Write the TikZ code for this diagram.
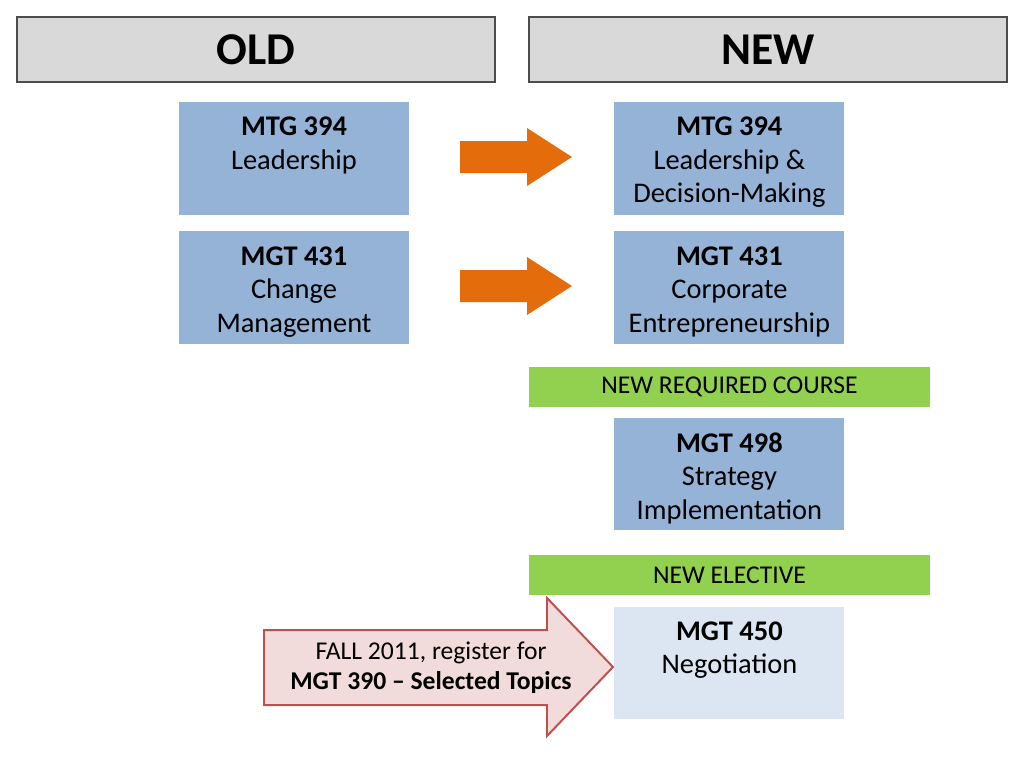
\documentclass[tikz,border=0pt]{standalone}
\usepackage{fontspec}
\setmainfont{Carlito}
\usetikzlibrary{positioning}
\definecolor{hdrgray}{HTML}{D9D9D9}
\definecolor{coursebl}{HTML}{95B3D7}
\definecolor{courselt}{HTML}{DCE6F2}
\definecolor{bannergreen}{HTML}{92D050}
\definecolor{moveorange}{HTML}{E46C0A}
\definecolor{regfill}{HTML}{F2DCDB}
\definecolor{regline}{HTML}{C0504D}

\begin{document}
\begin{tikzpicture}[x=0.703pt, y=-0.703pt]
        \tikzstyle{header} = [rectangle, draw=black!70, line width=0.8pt, fill=hdrgray, minimum width=336pt, minimum height=45.7pt, font=\fontsize{32}{38}\selectfont\bfseries]
        \tikzstyle{course} = [rectangle, fill=coursebl, minimum width=161.7pt, minimum height=79.4pt]
        \tikzstyle{coursetxt} = [inner sep=0pt, align=center, font=\fontsize{20}{23.6}\selectfont]
        \tikzstyle{banner} = [rectangle, fill=bannergreen, minimum width=282pt, minimum height=28.1pt, font=\fontsize{18}{21}\selectfont]
        \tikzstyle{movearrow} = [fill=moveorange]
        \tikzstyle{regarrow} = [fill=regfill, draw=regline, line width=1.4pt, line join=miter]

        \useasboundingbox (0,0) rectangle (1024,768);

        \node [header] (old) at (256,49.5) {OLD};
        \node [header] (new) at (768,49.5) {NEW};

        % old courses
        \node [course] (old394) at (294,158.5) {};
        \node [course, below=11.2pt of old394] (old431) {};

        % new courses
        \node [course, right=144pt of old394] (new394) {};
        \node [course, below=11.2pt of new394] (new431) {};
        \node [banner, below=15.5pt of new431] (required) {NEW REQUIRED COURSE};
        \node [course, below=7pt of required] (new498) {};
        \node [banner, below=16.9pt of new498] (elective) {NEW ELECTIVE};
        \node [course, fill=courselt, minimum height=78.7pt, below=7.7pt of elective] (new450) {};

        \node [coursetxt, below=10.5pt of old394.north] (old394txt) {\textbf{MTG 394}\\Leadership};
        \node [coursetxt, below=10.5pt of old431.north] (old431txt) {\textbf{MGT 431}\\Change\\Management};
        \node [coursetxt, below=10.5pt of new394.north] (new394txt) {\textbf{MTG 394}\\Leadership \&\\Decision-Making};
        \node [coursetxt, below=10.5pt of new431.north] (new431txt) {\textbf{MGT 431}\\Corporate\\Entrepreneurship};
        \node [coursetxt, below=10.5pt of new498.north] (new498txt) {\textbf{MGT 498}\\Strategy\\Implementation};
        \node [coursetxt, below=10.5pt of new450.north] (new450txt) {\textbf{MGT 450}\\Negotiation};

        % orange arrows
        \fill [movearrow] (460,141) -- (527,141) -- (527,128) -- (572,157) -- (527,186) -- (527,173) -- (460,173) -- cycle;
        \fill [movearrow] (460,270) -- (527,270) -- (527,257) -- (572,286) -- (527,315) -- (527,302) -- (460,302) -- cycle;

        % fall 2011 arrow
        \filldraw [regarrow] (264,630) -- (547,630) -- (547,598) -- (613,667) -- (547,736) -- (547,705) -- (264,705) -- cycle;
        \node [align=center, font=\fontsize{18}{21}\selectfont] (fall) at (431,668) {FALL 2011, register for\\\textbf{MGT 390 – Selected Topics}};
\end{tikzpicture}
\end{document}
